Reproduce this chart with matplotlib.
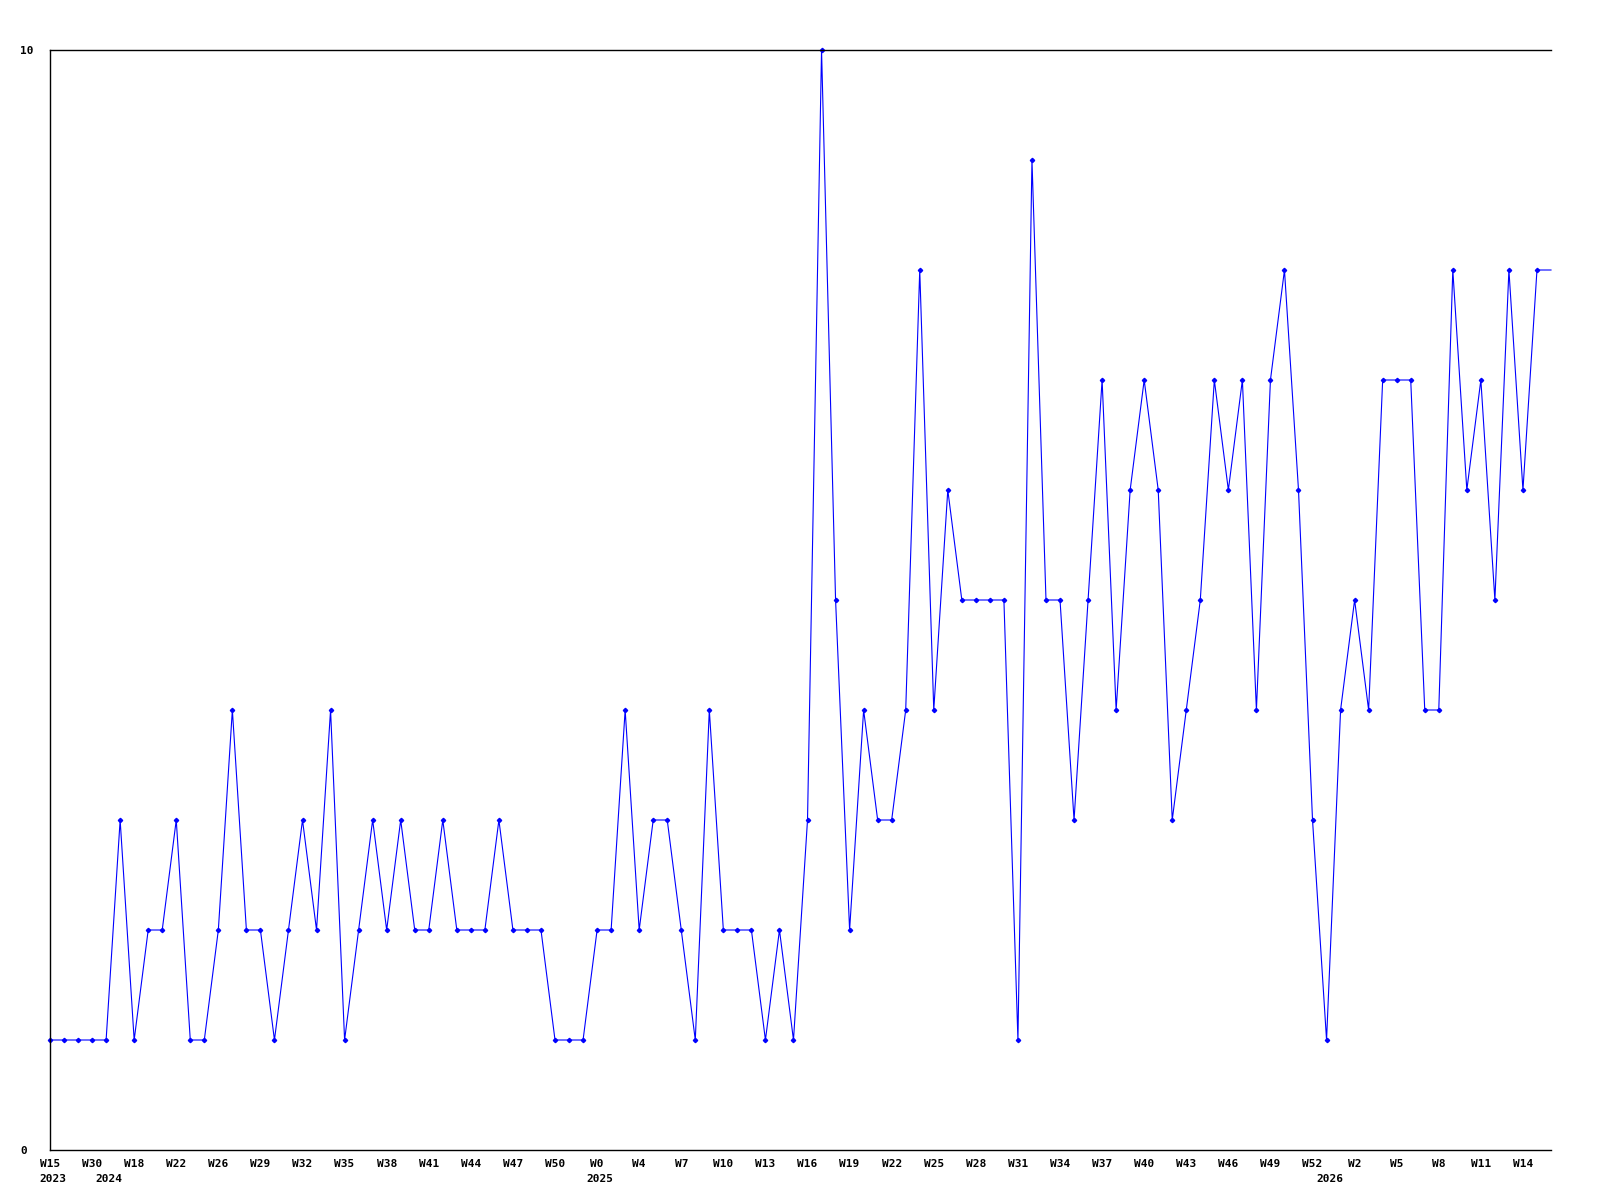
import matplotlib
matplotlib.use("Agg")
import matplotlib.pyplot as plt

# weekly counts, one value per week
values = [
    1, 1, 1, 1, 1, 3, 1, 2, 2, 3,
    1, 1, 2, 4, 2, 2, 1, 2, 3, 2,
    4, 1, 2, 3, 2, 3, 2, 2, 3, 2,
    2, 2, 3, 2, 2, 2, 1, 1, 1, 2,
    2, 4, 2, 3, 3, 2, 1, 4, 2, 2,
    2, 1, 2, 1, 3, 10, 5, 2, 4, 3,
    3, 4, 8, 4, 6, 5, 5, 5, 5, 1,
    9, 5, 5, 3, 5, 7, 4, 6, 7, 6,
    3, 4, 5, 7, 6, 7, 4, 7, 8, 6,
    3, 1, 4, 5, 4, 7, 7, 7, 4, 4,
    8, 6, 7, 5, 8, 6, 8, 8,
]

# every third week gets a label
week_labels = [
    "W15", "W30", "W18", "W22", "W26", "W29", "W32", "W35", "W38", "W41",
    "W44", "W47", "W50", "W0", "W4", "W7", "W10", "W13", "W16", "W19",
    "W22", "W25", "W28", "W31", "W34", "W37", "W40", "W43", "W46", "W49",
    "W52", "W2", "W5", "W8", "W11", "W14",
]
label_step = 3

years = ["2023", "2024", "2025", "2026"]
year_index = [0, 4, 39, 91]

font = {"family": "DejaVu Sans Mono", "weight": "bold", "size": 8}

fig = plt.figure(figsize=(16, 12), dpi=100)
ax = fig.add_axes([50 / 1600, 50 / 1200, 1501 / 1600, 1100 / 1200])

x = list(range(len(values)))
ax.plot(x, values, color="#0000FF", linewidth=0.8, marker="D", markersize=2.2,
        markevery=list(range(len(values) - 1)), clip_on=False)

ax.set_xlim(0, len(values) - 1)
ax.set_ylim(0, 10)

ax.set_xticks(x[::label_step][:len(week_labels)])
ax.set_xticklabels(week_labels, fontdict=font)
ax.set_yticks([0, 10])
ax.set_yticklabels(["0", "10"], fontdict=font, ha="left")
ax.tick_params(axis="x", length=0, pad=6.5)
ax.tick_params(axis="y", length=0, pad=21.6)

for yr, idx in zip(years, year_index):
    ax.annotate(yr, xy=(idx, 0), xycoords=("data", "axes fraction"),
                xytext=(3, -24), textcoords="offset pixels",
                ha="center", va="top", **font)

for side in ["left", "bottom", "top"]:
    ax.spines[side].set_color("black")
    ax.spines[side].set_linewidth(1.0)
ax.spines["right"].set_visible(False)

fig.savefig("out.png", dpi=100, facecolor="white")
plt.close(fig)
